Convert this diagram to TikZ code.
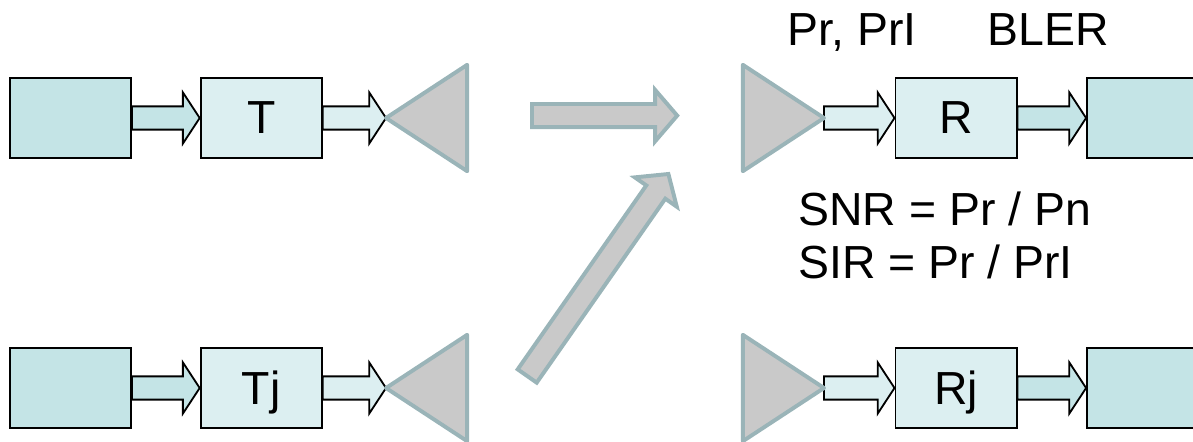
\documentclass[tikz,border=0pt]{standalone}
\usepackage{fontspec}
\setmainfont{Liberation Sans}
\usetikzlibrary{calc}
\definecolor{boxdark}{HTML}{C4E4E6}
\definecolor{boxlight}{HTML}{DCEFF1}
\definecolor{antline}{HTML}{9AB4B8}
\definecolor{antfill}{HTML}{C9C9C9}
\tikzset{
    blk/.style={draw=black,line width=1.3pt,minimum width=3.03cm,minimum height=2cm,inner sep=0pt,text depth=0pt},
    blkarrow/.style={draw=black,line width=1.3pt},
    ant/.style={draw=antline,fill=antfill,line width=2.8pt,line join=round},
    flow/.style={draw=antline,fill=antfill,line width=2.8pt},
    lbl/.style={anchor=base west,inner sep=0pt},
}
% block arrow: style, from, to, half shaft, half head, head length
\newcommand{\blockarrow}[6]{%
    \coordinate (hb) at ($(#3)!#6!(#2)$);
    \draw[#1] ($(#2)!#4!90:(#3)$) -- ($(hb)!#4!90:(#3)$) -- ($(hb)!#5!90:(#3)$) -- (#3)
        -- ($(hb)!#5!-90:(#3)$) -- ($(hb)!#4!-90:(#3)$) -- ($(#2)!#4!-90:(#3)$) -- cycle;}
\begin{document}
\begin{tikzpicture}[font=\fontsize{33}{40}\selectfont]
        \useasboundingbox (0,0) rectangle (29.825,-11.025);
        % wanted (a) and interfering (b) transmitters
        \foreach \y/\t/\n in {-2.95/T/a,-9.7/Tj/b}{
            \node[blk,fill=boxdark] (src\n) at (1.76,\y) {};
            \node[blk,fill=boxlight] (tx\n) at (6.53,\y) {\t};
            \coordinate (tant\n) at (9.65,\y);
            \blockarrow{blkarrow,fill=boxdark}{src\n.east}{tx\n.west}{0.29cm}{0.64cm}{0.42cm}
            \blockarrow{blkarrow,fill=boxlight}{tx\n.east}{tant\n}{0.29cm}{0.64cm}{0.42cm}
            \draw[ant] (tant\n) -- ++(2.03,1.33) -- ++(0,-2.66) -- cycle;
        }
        % receivers
        \foreach \y/\t/\n in {-2.95/R/a,-9.7/Rj/b}{
            \coordinate (rant\n) at (20.6,\y);
            \node[blk,fill=boxlight] (rx\n) at (23.9,\y) {\t};
            \node[blk,fill=boxdark] (sink\n) at (28.69,\y) {};
            \blockarrow{blkarrow,fill=boxlight}{rant\n}{rx\n.west}{0.29cm}{0.64cm}{0.42cm}
            \blockarrow{blkarrow,fill=boxdark}{rx\n.east}{sink\n.west}{0.29cm}{0.64cm}{0.42cm}
            \draw[ant] (rant\n) -- ++(-2.03,1.33) -- ++(0,-2.66) -- cycle;
        }
        % radio paths, wanted and interfering
        \coordinate (wa) at (13.3,-2.89);
        \coordinate (wb) at (16.93,-2.89);
        \coordinate (ia) at (13.18,-9.4);
        \coordinate (ib) at (16.71,-4.35);
        \blockarrow{flow}{wa}{wb}{0.29cm}{0.64cm}{0.55cm}
        \blockarrow{flow}{ia}{ib}{0.29cm}{0.64cm}{0.55cm}
        % measures at the receiver
        \node[lbl] (pwr) at (19.68,-1.125) {Pr, PrI};
        \node[lbl] (bler) at (24.68,-1.125) {BLER};
        \node[lbl,align=left,font=\fontsize{33}{37}\selectfont] (ratio) at (19.95,-6.95)
            {SNR = Pr / Pn\\SIR = Pr / PrI};
    \end{tikzpicture}
\end{document}
